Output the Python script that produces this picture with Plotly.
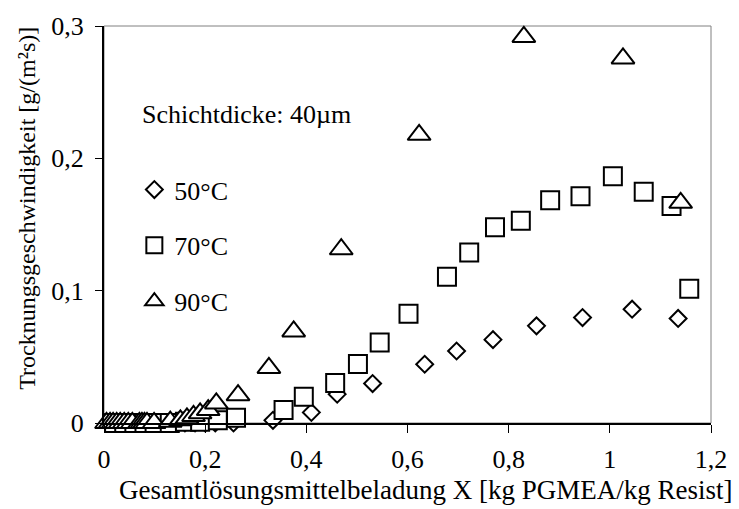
import plotly.graph_objects as go

# 50 °C (diamonds)
x50 = [0.02, 0.03, 0.04, 0.05, 0.06, 0.07, 0.08, 0.09, 0.10, 0.12, 0.14, 0.16, 0.18, 0.20,
       0.22, 0.256, 0.334, 0.41, 0.461, 0.531, 0.634, 0.697, 0.769, 0.855, 0.946, 1.044, 1.135]
y50 = [0.0, 0.0, 0.0, 0.0, 0.0, 0.0, 0.0, 0.0, 0.0, 0.0, 0.0, 0.0, 0.0, 0.0,
       0.0, 0.0, 0.002, 0.008, 0.0218, 0.0298, 0.0444, 0.0544, 0.063, 0.0734, 0.0797, 0.086, 0.079]

# 70 °C (squares)
x70 = [0.02, 0.04, 0.06, 0.08, 0.10, 0.13, 0.16, 0.19, 0.225, 0.261, 0.355, 0.395, 0.457,
       0.502, 0.545, 0.602, 0.678, 0.722, 0.773, 0.824, 0.882, 0.942, 1.006, 1.067, 1.122, 1.157]
y70 = [0.0, 0.0, 0.0, 0.0, 0.0, 0.0, 0.001, 0.001, 0.002, 0.004, 0.0098, 0.0198, 0.0303,
       0.0446, 0.0609, 0.0825, 0.1105, 0.1288, 0.148, 0.1529, 0.1684, 0.1714, 0.1865, 0.1747, 0.164, 0.1015]

# 90 °C (triangles)
x90 = [0.005, 0.012, 0.018, 0.025, 0.032, 0.04, 0.048, 0.056, 0.07, 0.075, 0.08, 0.085, 0.099,
       0.131, 0.151, 0.164, 0.177, 0.19, 0.206, 0.222, 0.265, 0.326, 0.375, 0.469, 0.623, 0.83, 1.026, 1.14]
y90 = [0.0, 0.0, 0.0, 0.0, 0.0, 0.0, 0.0, 0.0, 0.0, 0.0, 0.0, 0.0, 0.0,
       0.001, 0.002, 0.0035, 0.0053, 0.0073, 0.0098, 0.0148, 0.021, 0.0416, 0.0692, 0.1313, 0.2178, 0.2917, 0.2755, 0.1664]

x_ticks = [0, 0.2, 0.4, 0.6, 0.8, 1.0, 1.2]
y_ticks = [0, 0.1, 0.2, 0.3]

x_title = "Gesamtlösungsmittelbeladung X [kg PGMEA/kg Resist]"
y_title = "Trocknungsgeschwindigkeit [g/(m²s)]"
note = "Schichtdicke: 40µm"

FONT = "Liberation Serif, Times New Roman, serif"
FS = 26

fig = go.Figure()
series = [
    ("50°C", x50, y50, "diamond", 13),
    ("70°C", x70, y70, "square", 18),
    ("90°C", x90, y90, "triangle-up", 20),
]
for i, (name, xs, ys, sym, sz) in enumerate(series):
    fig.add_trace(go.Scatter(
        x=xs, y=ys, mode="markers", name=name, legendgroup=str(i),
        cliponaxis=False,
        marker=dict(symbol=sym, size=sz, color="white",
                    line=dict(color="black", width=2)),
    ))

fig.add_annotation(text=note, xref="paper", yref="paper",
                   x=0.06, y=0.777, xanchor="left", yanchor="middle",
                   showarrow=False, font=dict(family=FONT, size=FS, color="black"))
fig.add_annotation(text=x_title, xref="paper", yref="paper",
                   x=0.529, y=-0.168, xanchor="center", yanchor="middle",
                   showarrow=False, font=dict(family=FONT, size=27, color="black"))
fig.add_annotation(text=y_title, xref="paper", yref="paper", textangle=-90,
                   x=-0.126, y=0.541, xanchor="center", yanchor="middle",
                   showarrow=False, font=dict(family=FONT, size=24, color="black"))

fig.add_shape(type="rect", xref="paper", yref="paper", x0=0, y0=0, x1=1, y1=1,
              line=dict(color="#808080", width=1), layer="below")

fig.update_layout(
    width=739, height=509,
    margin=dict(l=104, r=17, t=24, b=86),
    paper_bgcolor="white", plot_bgcolor="white",
    separators=", ",
    font=dict(family=FONT, size=FS, color="black"),
    showlegend=True,
    legend=dict(x=0.05, y=0.647, xanchor="left", yanchor="top",
                bgcolor="rgba(0,0,0,0)", tracegroupgap=19, itemwidth=30,
                font=dict(family=FONT, size=FS, color="black")),
    xaxis=dict(range=[0, 1.2], tickvals=x_ticks, showgrid=False, zeroline=False,
               showline=True, linecolor="black", linewidth=2,
               ticks="outside", ticklen=8, tickwidth=1, tickcolor="black",
               ticklabelstandoff=4),
    yaxis=dict(range=[0, 0.3], tickvals=y_ticks, showgrid=False, zeroline=False,
               showline=True, linecolor="black", linewidth=2,
               ticks="outside", ticklen=7, tickwidth=1, tickcolor="black",
               ticklabelstandoff=6),
)

fig.write_html("out.html")
